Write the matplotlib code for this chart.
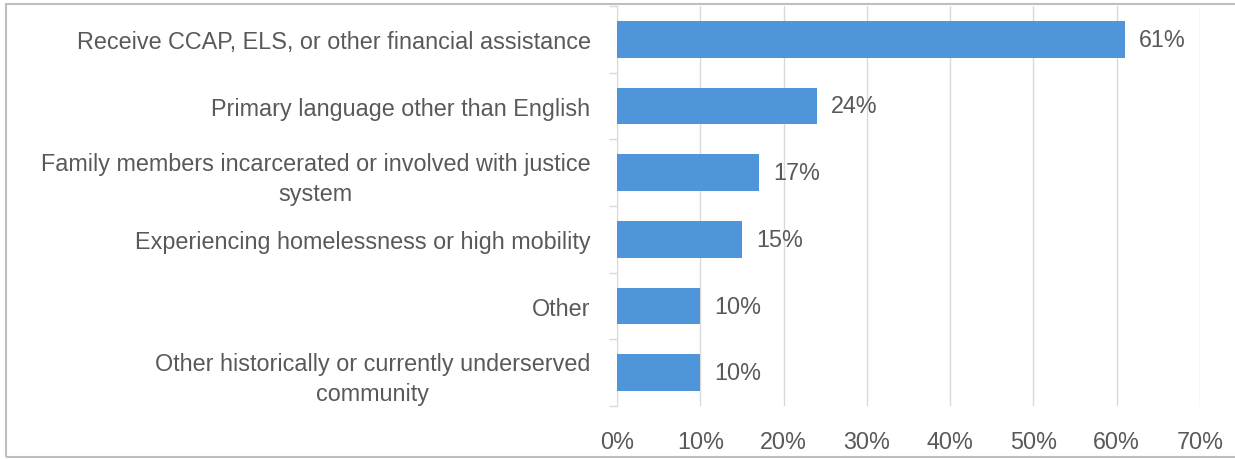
import numpy as np
import matplotlib.pyplot as plt
from matplotlib.patches import Rectangle

categories = [
    "Receive CCAP, ELS, or other financial assistance",
    "Primary language other than English",
    "Family members incarcerated or involved with justice\nsystem",
    "Experiencing homelessness or high mobility",
    "Other",
    "Other historically or currently underserved\ncommunity",
]
values = [61, 24, 17, 15, 10, 10]
xticks = [0, 10, 20, 30, 40, 50, 60, 70]

bar_color = "#4F95DA"
text_color = "#595959"
grid_color = "#D9D9D9"

plt.rcParams['font.family'] = ['Liberation Sans Narrow', 'Liberation Sans', 'DejaVu Sans']

fig = plt.figure(figsize=(12.35, 4.6), dpi=100)
ax = fig.add_axes([0.4996, 0.115, 0.9717 - 0.4996, 0.985 - 0.115])

y = np.arange(len(categories))
ax.barh(y, values, height=0.55, color=bar_color, zorder=3)
for yi, v in zip(y, values):
    ax.text(v + 1.7, yi, "%d%%" % v, va='center', ha='left',
            fontsize=16.8, color=text_color)

ax.set_ylim(len(categories) - 0.5, -0.5)
ax.set_xlim(0, 70)
ax.set_xticks(xticks)
ax.set_xticklabels(["%d%%" % t for t in xticks], fontsize=16.8, color=text_color)
ax.set_yticks(y)
ax.set_yticklabels(categories, fontsize=16.8, color=text_color,
                   multialignment='center', linespacing=1.4)
ax.tick_params(axis='y', length=0, pad=19)
ax.tick_params(axis='x', length=0, pad=17)

# small category separators on the left axis
ax.set_yticks(np.arange(-0.5, len(categories)), minor=True)
ax.tick_params(axis='y', which='minor', length=6, color=grid_color, width=1)

ax.grid(axis='x', color=grid_color, linewidth=1, zorder=0)
for s in ['top', 'right', 'bottom']:
    ax.spines[s].set_visible(False)
ax.spines['left'].set_color(grid_color)

# outer chart border
fig.patches.append(Rectangle((6 / 1235, 2 / 460), 1.0, 453 / 460,
                             transform=fig.transFigure, fill=False,
                             edgecolor="#BFBFBF", linewidth=1.5))

fig.savefig("out.png", dpi=100)
